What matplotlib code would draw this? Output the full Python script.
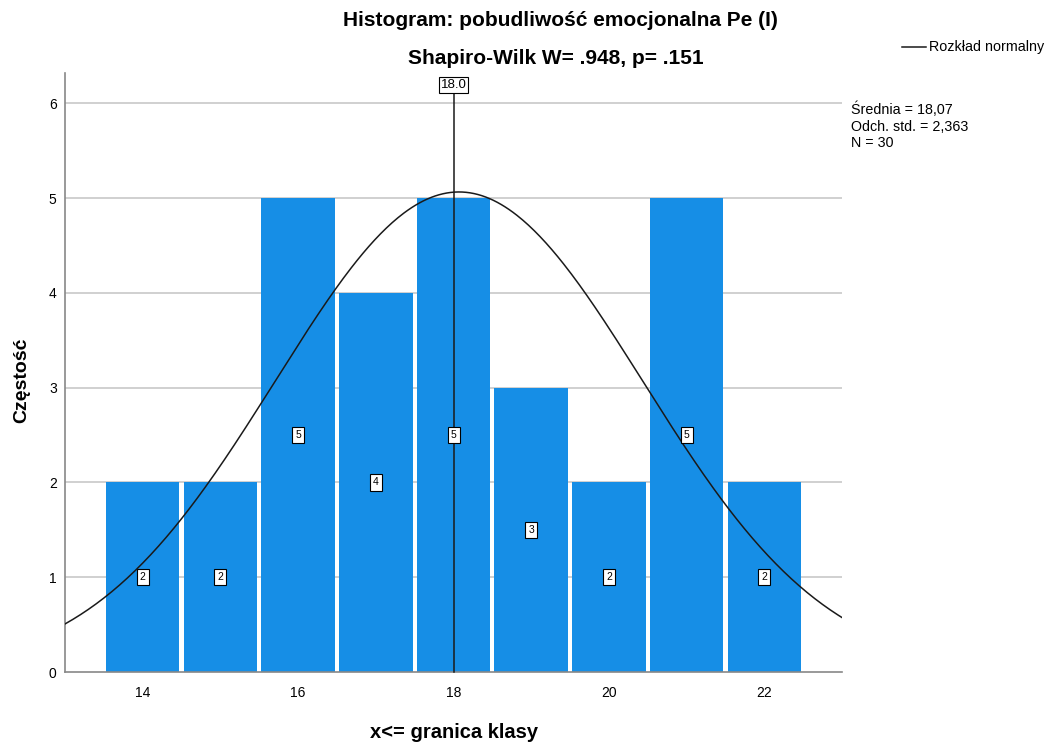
import numpy as np
import matplotlib
matplotlib.use("Agg")
import matplotlib.pyplot as plt

# class upper bounds and frequencies
bins = [14, 15, 16, 17, 18, 19, 20, 21, 22]
counts = [2, 2, 5, 4, 5, 3, 2, 5, 2]
mean, sd, n = 18.07, 2.363, 30
median_mark = 18.0

title_lines = ["Histogram: pobudliwość emocjonalna Pe (I)",
               "Shapiro-Wilk W= .948, p= .151"]
stats_text = "Średnia = 18,07\nOdch. std. = 2,363\nN = 30"

plt.rcParams['font.family'] = ['Liberation Sans', 'DejaVu Sans']

fig = plt.figure(figsize=(10.47, 7.46), dpi=100)
ax = fig.add_axes([65 / 1047, 1 - 672 / 746, (842 - 65) / 1047, (672 - 73) / 746])

ax.set_xlim(13, 23)
ax.set_ylim(0, 6.32)

# grid under the bars
for y in range(1, 7):
    ax.axhline(y, color='#c8c8c8', lw=1.2, zorder=0)

ax.bar(bins, counts, width=0.945, color='#168ee6', linewidth=0, zorder=2)

# count labels in the middle of each bar
for x, c in zip(bins, counts):
    ax.text(x, c / 2, str(c), ha='center', va='center', fontsize=7.5, zorder=5,
            bbox=dict(boxstyle='square,pad=0.3', fc='white', ec='black', lw=0.8))

# fitted normal curve
xs = np.linspace(13, 23, 400)
ys = n * 1.0 / (sd * np.sqrt(2 * np.pi)) * np.exp(-0.5 * ((xs - mean) / sd) ** 2)
ax.plot(xs, ys, color='#1a1a1a', lw=1.1, zorder=4)

# reference line with boxed value on top
ax.plot([median_mark, median_mark], [0, 6.1], color='#1a1a1a', lw=1.1, zorder=4, clip_on=False)
ax.text(median_mark, 6.19, f"{median_mark:.1f}", ha='center', va='center', fontsize=9.5,
        zorder=6, clip_on=False,
        bbox=dict(boxstyle='square,pad=0.15', fc='white', ec='black', lw=0.8))

for side in ['top', 'right']:
    ax.spines[side].set_visible(False)
for side in ['left', 'bottom']:
    ax.spines[side].set_color('#888888')
    ax.spines[side].set_linewidth(1.2)

ax.set_xticks([14, 16, 18, 20, 22])
ax.set_yticks(range(0, 7))
ax.tick_params(length=0, labelsize=10, pad=6)
ax.tick_params(axis='x', pad=10)

fig.text(22 / 1047, 1 - 380 / 746, "Częstość", rotation=90, ha='center', va='center',
         fontsize=14, fontweight='bold')
fig.text(454 / 1047, 1 - 733 / 746, "x<= granica klasy", ha='center', va='center',
         fontsize=14.5, fontweight='bold')

fig.text(560 / 1047, 1 - 20 / 746, title_lines[0], ha='center', va='center',
         fontsize=15, fontweight='bold')
fig.text(556 / 1047, 1 - 58 / 746, title_lines[1], ha='center', va='center',
         fontsize=15, fontweight='bold')

# legend entry and summary statistics on the right
fig.add_artist(plt.Line2D([902 / 1047, 926 / 1047], [1 - 47 / 746, 1 - 47 / 746],
                          color='#1a1a1a', lw=1.1))
fig.text(929 / 1047, 1 - 47 / 746, "Rozkład normalny", ha='left', va='center', fontsize=10.3)
fig.text(851 / 1047, 1 - 102 / 746, stats_text, ha='left', va='top', fontsize=10.3,
         linespacing=1.2)

fig.savefig("out.png", dpi=100)
